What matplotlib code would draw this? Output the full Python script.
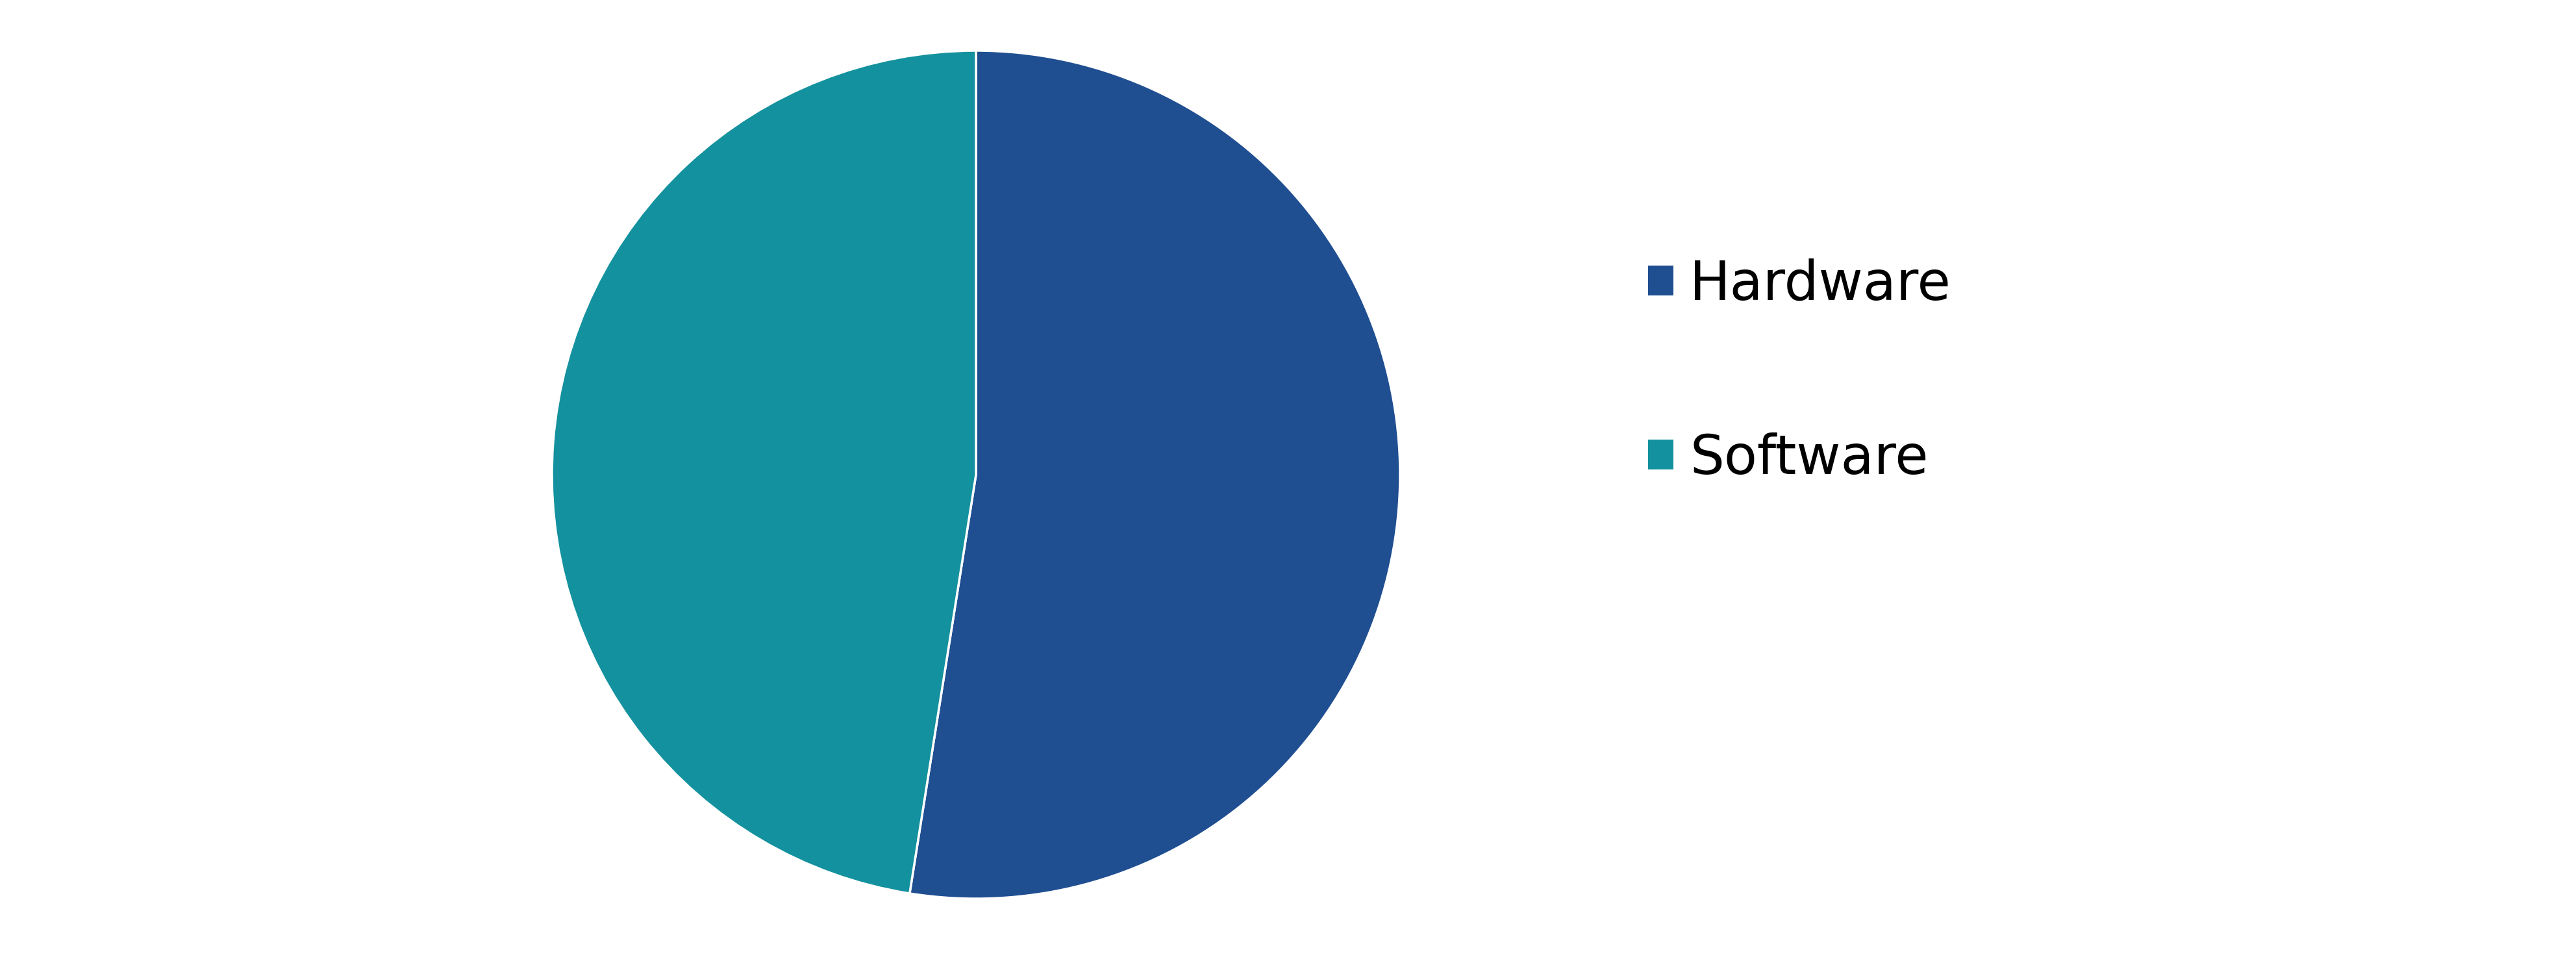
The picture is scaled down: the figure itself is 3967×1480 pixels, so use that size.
import matplotlib
matplotlib.use("Agg")
import matplotlib.pyplot as plt
from matplotlib.patches import Patch

# Segment shares (percent)
labels = ["Hardware", "Software"]
shares = [52.5, 47.5]
colors = ["#1F4E91", "#13919E"]

W, H = 3967, 1480
fig = plt.figure(figsize=(W / 100, H / 100), dpi=100)

# pie centred at (1503, 731) px, radius 653 px
cx, cy, r = 1503, 731, 653
ax = fig.add_axes([(cx - r) / W, (H - cy - r) / H, 2 * r / W, 2 * r / H])
ax.pie(
    shares,
    colors=colors,
    startangle=90,
    counterclock=False,
    radius=1.0,
    wedgeprops=dict(edgecolor="white", linewidth=2.5),
)
ax.set_xlim(-1, 1)
ax.set_ylim(-1, 1)
ax.set_aspect("equal")
ax.axis("off")

handles = [Patch(facecolor=c, edgecolor="none") for c in colors]
fig.legend(
    handles,
    labels,
    loc="upper left",
    bbox_to_anchor=(2538 / W, 1 - 398 / H),
    frameon=False,
    fontsize=60,
    handlelength=0.47,
    handleheight=0.47,
    handletextpad=0.3,
    labelspacing=2.24,
    borderaxespad=0,
    borderpad=0,
)

fig.savefig("out.png", dpi=100, facecolor="white")
